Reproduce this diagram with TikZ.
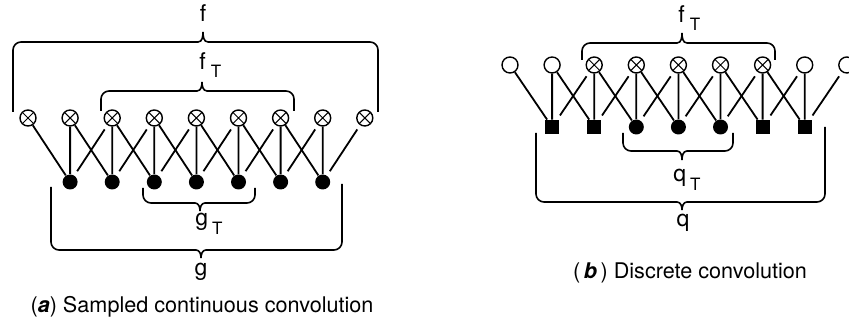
\documentclass[tikz,border=0pt]{standalone}
\usepackage{fontspec}
\setmainfont{TeX Gyre Heros}
\usetikzlibrary{positioning}

\begin{document}
\begin{tikzpicture}[
  x=0.5pt, y=0.5pt,
  xo/.style={circle, draw, line width=0.7pt, minimum size=8pt, inner sep=0pt,
    path picture={\draw[line width=0.5pt] (path picture bounding box.north west) -- (path picture bounding box.south east)
      (path picture bounding box.north east) -- (path picture bounding box.south west);}},
  oc/.style={circle, draw, line width=0.7pt, minimum size=8pt, inner sep=0pt},
  dot/.style={circle, fill, minimum size=7.5pt, inner sep=0pt},
  sq/.style={rectangle, fill, minimum size=7pt, inner sep=0pt},
  link/.style={line width=0.9pt, shorten <=2.5pt, shorten >=2.5pt},
  brc/.style={line width=0.8pt},
  lab/.style={font=\fontsize{11.5}{11.5}\selectfont, inner sep=0pt, anchor=base},
  sub/.style={font=\fontsize{11.5}{11.5}\selectfont, inner sep=0pt, anchor=base west},
  captxt/.style={font=\fontsize{10.8}{10.8}\selectfont, inner sep=0pt, anchor=base}
]
\useasboundingbox (0,0) rectangle (849,-324);

% (a) sampled continuous convolution
\foreach \i in {0,...,8}
  \node[xo] (fa\i) at ({28+42.1*\i},-118) {};
\foreach \j in {1,...,7}
  \node[dot] (ga\j) at ({28+42.1*\j},-182) {};
\foreach \j [evaluate=\j as \l using {int(\j-1)}, evaluate=\j as \r using {int(\j+1)}] in {1,...,7}
  \draw[link] (fa\l) -- (ga\j) (fa\j) -- (ga\j) (fa\r) -- (ga\j);

\draw[brc] (13,-112) -- (13,-50) to[out=90,in=180] (21,-42) -- (198,-42) to[out=0,in=-90] (203,-32)
  to[out=-90,in=180] (208,-42) -- (370,-42) to[out=0,in=90] (378,-50) -- (378,-112);
\draw[brc] (101,-111) -- (101,-99) to[out=90,in=180] (109,-91) -- (197,-91) to[out=0,in=-90] (202,-82)
  to[out=-90,in=180] (207,-91) -- (286,-91) to[out=0,in=90] (294,-99) -- (294,-111);
\draw[brc] (143,-188) -- (143,-195) to[out=-90,in=180] (151,-203) -- (195,-203) to[out=0,in=90] (200,-211)
  to[out=90,in=180] (205,-203) -- (247,-203) to[out=0,in=-90] (255,-195) -- (255,-188);
\draw[brc] (51,-187) -- (51,-242) to[out=-90,in=180] (59,-250) -- (196,-250) to[out=0,in=90] (201,-258)
  to[out=90,in=180] (206,-250) -- (334,-250) to[out=0,in=-90] (342,-242) -- (342,-184);

\node[lab] (fa) at (203,-22) {f};
\node[sub] (faT) at (199,-70) {f\hspace{2.5pt}\raisebox{-4pt}{\fontsize{8.5}{8.5}\selectfont T}};
\node[sub] (gaT) at (195,-226) {g\hspace{2pt}\raisebox{-4.5pt}{\fontsize{8.5}{8.5}\selectfont T}};
\node[lab] (ga) at (201,-276) {g};
\node[captxt] (capa) at (202,-313) {(\textbf{\textit{a}}) Sampled continuous convolution};

% (b) discrete convolution
\foreach \i/\s in {0/oc,1/oc,2/xo,3/xo,4/xo,5/xo,6/xo,7/oc,8/oc}
  \node[\s] (fb\i) at ({510+42.1*\i},-65) {};
\foreach \j/\s in {1/sq,2/sq,3/dot,4/dot,5/dot,6/sq,7/sq}
  \node[\s] (qb\j) at ({510+42.1*\j},-127) {};
\foreach \j [evaluate=\j as \l using {int(\j-1)}, evaluate=\j as \r using {int(\j+1)}] in {1,...,7}
  \draw[link] (fb\l) -- (qb\j) (fb\j) -- (qb\j) (fb\r) -- (qb\j);

\draw[brc] (582,-60) -- (582,-51) to[out=90,in=180] (590,-43) -- (677,-43) to[out=0,in=-90] (682,-33)
  to[out=-90,in=180] (687,-43) -- (767,-43) to[out=0,in=90] (775,-51) -- (775,-60);
\draw[brc] (623,-133) -- (623,-143) to[out=-90,in=180] (631,-151) -- (677,-151) to[out=0,in=90] (682,-160)
  to[out=90,in=180] (687,-151) -- (725,-151) to[out=0,in=-90] (733,-143) -- (733,-133);
\draw[brc] (536,-133) -- (536,-194) to[out=-90,in=180] (544,-202) -- (677,-202) to[out=0,in=90] (682,-210)
  to[out=90,in=180] (687,-202) -- (817,-202) to[out=0,in=-90] (825,-194) -- (825,-127);

\node[sub] (fbT) at (678,-23) {f\hspace{2.5pt}\raisebox{-4pt}{\fontsize{8.5}{8.5}\selectfont T}};
\node[sub] (qbT) at (673,-182) {q\hspace{2pt}\raisebox{-4.5pt}{\fontsize{8.5}{8.5}\selectfont T}};
\node[lab] (qb) at (683,-227) {q};
\node[captxt] (capb) at (690,-279) {(\,\textbf{\textit{b}}\,) Discrete convolution};
\end{tikzpicture}
\end{document}
